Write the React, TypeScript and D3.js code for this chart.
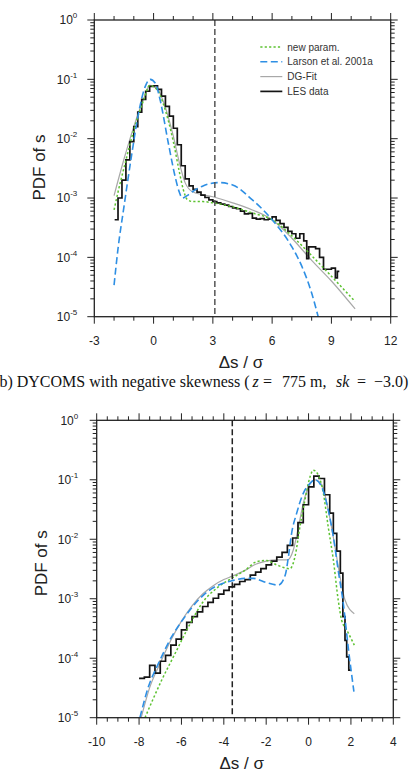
import React from "react";
import * as d3 from "d3";

type Pt = [number, number];

// ---- panel a: LES histogram and the three fitted PDFs ----
const lesA: Pt[] = [
  [-1.97, 4.3e-4], [-1.8, 1.0e-3], [-1.6, 2.0e-3], [-1.4, 4.4e-3], [-1.2, 8.9e-3],
  [-1.0, 1.6e-2], [-0.8, 2.8e-2], [-0.6, 4.6e-2], [-0.4, 6.3e-2], [-0.2, 7.6e-2],
  [0.0, 7.8e-2], [0.2, 6.8e-2], [0.4, 5.2e-2], [0.6, 3.5e-2], [0.8, 2.4e-2],
  [1.0, 1.5e-2], [1.2, 7.9e-3], [1.4, 3.5e-3], [1.6, 2.1e-3], [1.8, 1.6e-3],
  [2.0, 1.4e-3], [2.2, 1.26e-3], [2.4, 1.12e-3], [2.6, 1.02e-3], [2.8, 9.3e-4],
  [3.0, 8.7e-4], [3.2, 8.3e-4], [3.4, 7.9e-4], [3.6, 7.6e-4], [3.8, 7.2e-4],
  [4.0, 6.8e-4], [4.2, 6.6e-4], [4.4, 6.0e-4], [4.6, 5.4e-4], [4.8, 5.5e-4],
  [5.0, 4.6e-4], [5.2, 4.4e-4], [5.4, 4.5e-4], [5.6, 4.3e-4], [5.8, 4.4e-4],
  [6.0, 4.8e-4], [6.2, 4.2e-4], [6.4, 3.7e-4], [6.6, 3.2e-4], [6.8, 2.75e-4],
  [7.0, 2.5e-4], [7.2, 2.1e-4], [7.4, 2.5e-4], [7.6, 1.9e-4], [7.75, 9.5e-5],
  [7.85, 1.5e-4], [8.2, 1.4e-4], [8.4, 1.0e-4], [8.6, 6.3e-5], [8.8, 6.3e-5],
  [9.0, 6.6e-5], [9.2, 4.5e-5], [9.3, 5.8e-5],
];
const lesAEnd = 9.4;

const newParamA: Pt[] = [
  [-2.0, 6.3e-4], [-1.8, 1.26e-3], [-1.5, 3.2e-3], [-1.0, 1.4e-2], [-0.5, 4.5e-2],
  [-0.2, 7.9e-2], [0.2, 6.6e-2], [0.5, 3.8e-2], [1.0, 8.9e-3], [1.3, 2.8e-3],
  [1.5, 1.4e-3], [1.7, 9.5e-4], [2.0, 8.7e-4], [2.5, 8.7e-4], [3.0, 8.3e-4],
  [4.0, 7.1e-4], [5.0, 5.6e-4], [6.0, 4.3e-4], [7.0, 2.3e-4], [8.0, 1.07e-4],
  [9.0, 4.8e-5], [10.2, 1.8e-5],
];

const larsonA: Pt[] = [
  [-2.0, 3.4e-5], [-1.8, 1.4e-4], [-1.5, 7.1e-4], [-1.1, 5.6e-3], [-0.76, 2.7e-2],
  [-0.42, 7.6e-2], [-0.17, 0.1], [0.1, 8.5e-2], [0.33, 4.5e-2], [0.75, 8.3e-3],
  [1.09, 2.3e-3], [1.3, 1.26e-3], [1.45, 1.0e-3], [1.7, 1.1e-3], [2.0, 1.3e-3],
  [2.5, 1.6e-3], [3.3, 1.82e-3], [4.0, 1.66e-3], [5.0, 9.3e-4], [6.0, 4.3e-4],
  [7.0, 1.5e-4], [7.5, 7.1e-5], [8.0, 2.5e-5], [8.33, 1.0e-5],
];

const dgFitA: Pt[] = [
  [-2.0, 1.1e-3], [-1.5, 4.5e-3], [-1.0, 1.6e-2], [-0.5, 4.7e-2], [-0.2, 7.9e-2],
  [0.2, 6.8e-2], [0.5, 4.2e-2], [1.0, 1.1e-2], [1.3, 4.0e-3], [1.6, 1.8e-3],
  [2.0, 1.26e-3], [3.0, 1.05e-3], [4.0, 8.3e-4], [5.0, 6.3e-4], [6.0, 4.3e-4],
  [7.0, 2.1e-4], [8.0, 8.9e-5], [9.0, 4.0e-5], [10.2, 1.35e-5],
];

// ---- panel b: DYCOMS, negative skewness ----
const lesB: Pt[] = [
  [-8.0, 4.6e-5], [-7.75, 4.8e-5], [-7.5, 7.6e-5], [-7.25, 5.6e-5], [-7.0, 8.9e-5],
  [-6.75, 1.12e-4], [-6.5, 1.66e-4], [-6.25, 2.1e-4], [-6.0, 3.0e-4], [-5.75, 4.0e-4],
  [-5.5, 5.0e-4], [-5.25, 6.0e-4], [-5.0, 7.4e-4], [-4.75, 8.7e-4], [-4.5, 1.02e-3],
  [-4.25, 1.2e-3], [-4.0, 1.38e-3], [-3.75, 1.58e-3], [-3.5, 1.74e-3], [-3.25, 1.95e-3],
  [-3.0, 2.1e-3], [-2.75, 2.5e-3], [-2.5, 2.8e-3], [-2.25, 3.2e-3], [-2.0, 3.7e-3],
  [-1.75, 4.3e-3], [-1.5, 5.0e-3], [-1.25, 6.0e-3], [-1.0, 7.9e-3], [-0.75, 1.05e-2],
  [-0.5, 1.9e-2], [-0.25, 3.8e-2], [0.0, 7.6e-2], [0.25, 0.115], [0.5, 0.105],
  [0.75, 5.6e-2], [1.0, 2.75e-2], [1.17, 1.26e-2], [1.33, 6.3e-3], [1.5, 2.7e-3],
  [1.62, 5.0e-4], [1.72, 2.0e-4], [1.8, 1.05e-4], [1.9, 6.3e-5],
];
const lesBEnd = 2.0;

const newParamB: Pt[] = [
  [-7.72, 1.0e-5], [-6.93, 4.3e-5], [-6.3, 1.2e-4], [-5.66, 3.4e-4], [-5.04, 8.3e-4],
  [-4.26, 1.58e-3], [-3.63, 2.2e-3], [-3.0, 3.0e-3], [-2.45, 4.2e-3], [-1.98, 4.4e-3],
  [-1.5, 3.7e-3], [-0.88, 3.2e-3], [-0.64, 5.1e-3], [-0.41, 1.6e-2], [-0.17, 4.6e-2],
  [0.07, 0.112], [0.22, 0.145], [0.46, 0.12], [0.7, 5.9e-2], [0.93, 1.6e-2],
  [1.17, 4.5e-3], [1.4, 9.5e-4], [1.56, 4.4e-4], [1.8, 3.0e-4], [2.16, 1.66e-4],
];

const larsonB: Pt[] = [
  [-7.96, 1.0e-5], [-7.56, 3.3e-5], [-7.09, 8.1e-5], [-6.46, 2.3e-4], [-5.83, 5.0e-4],
  [-5.2, 9.5e-4], [-4.57, 1.48e-3], [-3.63, 2.0e-3], [-3.0, 2.2e-3], [-2.61, 2.2e-3],
  [-1.98, 1.86e-3], [-1.43, 1.7e-3], [-1.1, 2.5e-3], [-0.95, 5.1e-3], [-0.8, 1.26e-2],
  [-0.56, 2.75e-2], [-0.25, 5.9e-2], [0.07, 8.7e-2], [0.3, 0.1], [0.62, 7.6e-2],
  [0.93, 3.1e-2], [1.17, 1.1e-2], [1.4, 3.0e-3], [1.64, 8.3e-4], [1.87, 1.55e-4],
  [2.14, 2.75e-5],
];

const dgFitB: Pt[] = [
  [-7.9, 1.0e-5], [-7.5, 3.2e-5], [-7.0, 8.3e-5], [-6.5, 2.0e-4], [-6.0, 4.2e-4],
  [-5.5, 7.6e-4], [-5.0, 1.2e-3], [-4.5, 1.66e-3], [-4.0, 2.1e-3], [-3.6, 2.4e-3],
  [-3.0, 3.0e-3], [-2.5, 3.8e-3], [-2.0, 4.3e-3], [-1.5, 4.5e-3], [-1.0, 4.5e-3],
  [-0.72, 6.6e-3], [-0.48, 1.6e-2], [-0.25, 4.0e-2], [0.0, 7.6e-2], [0.3, 0.1],
  [0.62, 8.3e-2], [0.93, 3.1e-2], [1.25, 7.4e-3], [1.49, 2.3e-3], [1.72, 9.5e-4],
  [2.16, 5.6e-4],
];

const xTicksA = [-3, 0, 3, 6, 9, 12];
const xTicksB = [-10, -8, -6, -4, -2, 0, 2, 4];
const decadeExps = [0, -1, -2, -3, -4, -5];
const legendLabels = ["new param.", "Larson et al. 2001a", "DG-Fit", "LES data"];

const SANS = "'Liberation Sans', Arial, Helvetica, sans-serif";
const SERIF = "'Liberation Serif', 'Times New Roman', serif";

const GREEN = "#5cc230";
const BLUE = "#2e8fe4";
const GRAY = "#a8a8a8";
const BLACK = "#141414";

const lineStyles = [
  { stroke: GREEN, dash: "2.2,2.2", width: 1.5 },
  { stroke: BLUE, dash: "7,3.5", width: 1.6 },
  { stroke: GRAY, dash: undefined, width: 1.2 },
  { stroke: BLACK, dash: undefined, width: 1.7 },
];

type PanelProps = {
  left: number;
  top: number;
  width: number;
  height: number;
  xDomain: [number, number];
  xTicks: number[];
  minorStep: number;
  les: Pt[];
  lesEnd: number;
  newParam: Pt[];
  larson: Pt[];
  dgFit: Pt[];
  markX: number;
  markColor: string;
  labelGap: number;
  yTitleX: number;
  yTitleY: number;
  xTitleX: number;
  showLegend?: boolean;
};

function Panel(p: PanelProps) {
  const x = d3.scaleLinear().domain(p.xDomain).range([p.left, p.left + p.width]);
  const y = d3.scaleLog().domain([1e-5, 1]).range([p.top + p.height, p.top]);
  const bottom = p.top + p.height;
  const right = p.left + p.width;

  const smooth = d3
    .line<Pt>()
    .x((d) => x(d[0]))
    .y((d) => y(d[1]))
    .curve(d3.curveMonotoneX);
  const step = d3
    .line<Pt>()
    .x((d) => x(d[0]))
    .y((d) => y(d[1]))
    .curve(d3.curveStepAfter);
  const lesPts: Pt[] = [...p.les, [p.lesEnd, p.les[p.les.length - 1][1]]];

  const minorX = d3.range(p.xDomain[0], p.xDomain[1] + 1e-9, p.minorStep);
  const minorY: number[] = [];
  for (let e = -5; e < 0; e++) {
    for (let m = 2; m <= 9; m++) minorY.push(m * Math.pow(10, e));
  }

  const major = 7;
  const minor = 4;
  const axisColor = "#222";

  return (
    <g>
      {/* data */}
      <path d={smooth(p.dgFit) || ""} fill="none" stroke={GRAY} strokeWidth={1.2} />
      <path d={step(lesPts) || ""} fill="none" stroke={BLACK} strokeWidth={1.7} />
      <path
        d={smooth(p.newParam) || ""}
        fill="none"
        stroke={GREEN}
        strokeWidth={1.5}
        strokeDasharray="2.2,2.2"
      />
      <path
        d={smooth(p.larson) || ""}
        fill="none"
        stroke={BLUE}
        strokeWidth={1.6}
        strokeDasharray="7,3.5"
      />

      {/* dashed marker */}
      <line
        x1={x(p.markX)}
        x2={x(p.markX)}
        y1={p.top}
        y2={bottom}
        stroke={p.markColor}
        strokeWidth={1.5}
        strokeDasharray="6,3"
      />

      {/* frame */}
      <rect
        x={p.left}
        y={p.top}
        width={p.width}
        height={p.height}
        fill="none"
        stroke={axisColor}
        strokeWidth={1.3}
      />

      {/* x ticks, outward on bottom and top */}
      {minorX.map((v) => {
        const isMajor = p.xTicks.some((t) => Math.abs(t - v) < 1e-6);
        const len = isMajor ? major : minor;
        return (
          <g key={"xt" + v} stroke={axisColor} strokeWidth={1}>
            <line x1={x(v)} x2={x(v)} y1={bottom} y2={bottom + len} />
            <line x1={x(v)} x2={x(v)} y1={p.top} y2={p.top - len} />
          </g>
        );
      })}

      {/* y ticks, outward on left and right */}
      {decadeExps.map((e) => {
        const v = Math.pow(10, e);
        return (
          <g key={"yt" + e} stroke={axisColor} strokeWidth={1}>
            <line x1={p.left} x2={p.left - major} y1={y(v)} y2={y(v)} />
            <line x1={right} x2={right + major} y1={y(v)} y2={y(v)} />
          </g>
        );
      })}
      {minorY.map((v) => (
        <g key={"ym" + v} stroke={axisColor} strokeWidth={1}>
          <line x1={p.left} x2={p.left - minor} y1={y(v)} y2={y(v)} />
          <line x1={right} x2={right + minor} y1={y(v)} y2={y(v)} />
        </g>
      ))}

      {/* tick labels */}
      {p.xTicks.map((t) => (
        <text
          key={"xl" + t}
          x={x(t)}
          y={bottom + 28}
          textAnchor="middle"
          fontSize={12}
          fontFamily={SANS}
          fill="#222"
        >
          {t}
        </text>
      ))}
      {decadeExps.map((e) => (
        <text
          key={"yl" + e}
          x={p.left - p.labelGap}
          y={y(Math.pow(10, e)) + 4.3}
          textAnchor="end"
          fontSize={12}
          fontFamily={SANS}
          fill="#222"
        >
          10
          <tspan dy={-6} fontSize={8}>
            {e}
          </tspan>
        </text>
      ))}

      {/* axis titles */}
      <text
        x={p.xTitleX}
        y={bottom + 51.5}
        textAnchor="middle"
        fontSize={17}
        fontFamily={SANS}
        fill="#222"
      >
        Δs / σ
      </text>
      <text
        transform={`translate(${p.yTitleX},${p.yTitleY}) rotate(-90)`}
        textAnchor="middle"
        fontSize={17}
        fontFamily={SANS}
        fill="#222"
      >
        PDF of s
      </text>

      {p.showLegend &&
        legendLabels.map((label, i) => {
          const ly = p.top + 27 + i * 14.8;
          const s = lineStyles[i];
          return (
            <g key={label}>
              <line
                x1={p.left + 166}
                x2={p.left + 188}
                y1={ly}
                y2={ly}
                stroke={s.stroke}
                strokeWidth={s.width}
                strokeDasharray={s.dash}
              />
              <text
                x={p.left + 193}
                y={ly + 3.5}
                fontSize={10}
                fontFamily={SANS}
                fill="#333"
              >
                {label}
              </text>
            </g>
          );
        })}
    </g>
  );
}

export default function App() {
  return (
    <svg
      width={409}
      height={779}
      style={{ position: "absolute", left: 0, top: 0, background: "#fff" }}
    >
      <Panel
        left={94.3}
        top={20}
        width={296.4}
        height={296.7}
        xDomain={[-3, 12]}
        xTicks={xTicksA}
        minorStep={1}
        les={lesA}
        lesEnd={lesAEnd}
        newParam={newParamA}
        larson={larsonA}
        dgFit={dgFitA}
        markX={3.1}
        markColor="#555"
        labelGap={17}
        yTitleX={44.5}
        yTitleY={167.5}
        xTitleX={241}
        showLegend
      />

      {/* panel b caption, math part spaced like a LaTeX line */}
      <text x={-0.6} y={387} fontSize={16} fontFamily={SERIF} fill="#111">
        b) DYCOMS with negative skewness (
        <tspan x={252.5} fontStyle="italic">z</tspan>
        <tspan x={263}>=</tspan>
        <tspan x={282}>775 m,</tspan>
        <tspan x={336} fontStyle="italic">sk</tspan>
        <tspan x={357}>=</tspan>
        <tspan x={374}>−3.0)</tspan>
      </text>

      <Panel
        left={96.7}
        top={420.3}
        width={296.6}
        height={297.4}
        xDomain={[-10, 4]}
        xTicks={xTicksB}
        minorStep={0.5}
        les={lesB}
        lesEnd={lesBEnd}
        newParam={newParamB}
        larson={larsonB}
        dgFit={dgFitB}
        markX={-3.6}
        markColor="#222"
        labelGap={18.5}
        yTitleX={46.5}
        yTitleY={563.3}
        xTitleX={241.7}
      />
    </svg>
  );
}
